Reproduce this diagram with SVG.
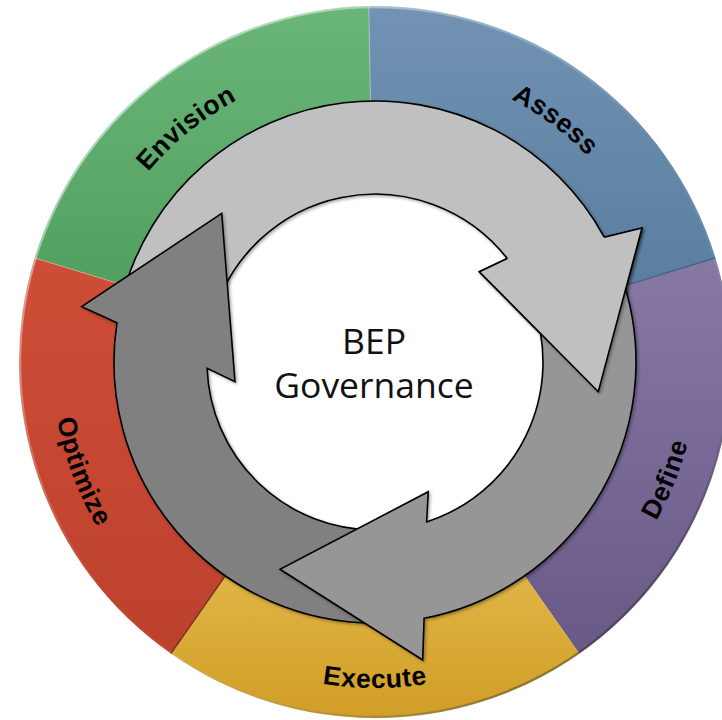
<svg xmlns="http://www.w3.org/2000/svg" width="722" height="720" viewBox="0 0 722 720">
<defs>
<style>
.lbl{font-family:"Liberation Sans",Arial,sans-serif;font-weight:bold;font-size:26.5px;fill:#000;letter-spacing:0.6px}
.ctr{font-family:"Open Sans","Noto Sans",sans-serif;font-size:35.5px;fill:#111;text-anchor:middle}
.arr{stroke:#000;stroke-width:1.6;stroke-linejoin:miter}
</style>
<linearGradient id="gG" x1="0" y1="0" x2="0" y2="1"><stop offset="0" stop-color="#6ab679"/><stop offset="1" stop-color="#52a060"/></linearGradient>
<linearGradient id="gB" x1="0" y1="0" x2="0" y2="1"><stop offset="0" stop-color="#7293b3"/><stop offset="1" stop-color="#597e9f"/></linearGradient>
<linearGradient id="gP" x1="0" y1="0" x2="0" y2="1"><stop offset="0" stop-color="#8878a5"/><stop offset="1" stop-color="#695986"/></linearGradient>
<linearGradient id="gY" x1="0" y1="0" x2="0" y2="1"><stop offset="0" stop-color="#e0b547"/><stop offset="1" stop-color="#d19e26"/></linearGradient>
<linearGradient id="gR" x1="0" y1="0" x2="0" y2="1"><stop offset="0" stop-color="#ce4d37"/><stop offset="1" stop-color="#bc412d"/></linearGradient>
<linearGradient id="bevel" x1="0.15" y1="0.1" x2="0.85" y2="0.95"><stop offset="0" stop-color="#ffffff" stop-opacity="0.55"/><stop offset="0.5" stop-color="#ffffff" stop-opacity="0"/><stop offset="1" stop-color="#000000" stop-opacity="0.45"/></linearGradient>
<filter id="sh" x="-10%" y="-10%" width="120%" height="120%"><feDropShadow dx="1.5" dy="1.5" stdDeviation="1.5" flood-color="#000" flood-opacity="0.35"/></filter>
<path id="cw" d="M 79 362 A 296 296 0 0 1 671 362 A 296 296 0 0 1 79 362"/>
<path id="ccw" d="M 375 39 A 323 323 0 0 0 375 685 A 323 323 0 0 0 375 39"/>
<path id="ccwE" d="M 375 36 A 326 326 0 0 0 375 688 A 326 326 0 0 0 375 36"/>
</defs>
<rect width="722" height="720" fill="#fff"/>
<g id="envision">
<path d="M 34.56 257.92 A 356 356 0 0 1 368.79 6.05 L 370.55 107.04 A 255 255 0 0 0 131.14 287.45 Z" fill="url(#gG)"/>
<text class="lbl" text-anchor="middle"><textPath href="#cw" startOffset="14.2%">Envision</textPath></text>
</g>
<g id="assess">
<path d="M 368.79 6.05 A 356 356 0 0 1 715.44 257.92 L 618.86 287.45 A 255 255 0 0 0 370.55 107.04 Z" fill="url(#gB)"/>
<text class="lbl" text-anchor="middle"><textPath href="#cw" startOffset="35.2%">Assess</textPath></text>
</g>
<g id="define">
<path d="M 715.44 257.92 A 356 356 0 0 1 579.19 653.62 L 521.26 570.88 A 255 255 0 0 0 618.86 287.45 Z" fill="url(#gP)"/>
<text class="lbl" text-anchor="middle"><textPath href="#ccw" startOffset="68.9%">Define</textPath></text>
</g>
<g id="execute">
<path d="M 579.19 653.62 A 356 356 0 0 1 170.81 653.62 L 228.74 570.88 A 255 255 0 0 0 521.26 570.88 Z" fill="url(#gY)"/>
<text class="lbl" text-anchor="middle"><textPath href="#ccwE" startOffset="50%">Execute</textPath></text>
</g>
<g id="optimize">
<path d="M 170.81 653.62 A 356 356 0 0 1 34.56 257.92 L 131.14 287.45 A 255 255 0 0 0 228.74 570.88 Z" fill="url(#gR)"/>
<text class="lbl" text-anchor="middle"><textPath href="#ccw" startOffset="30.7%">Optimize</textPath></text>
</g>
<g id="ring-edges" fill="none">
<line x1="715.44" y1="257.92" x2="618.86" y2="287.45" stroke="#3d5d7c" stroke-width="1.2"/>
<line x1="170.81" y1="653.62" x2="228.74" y2="570.88" stroke="#7a2e22" stroke-width="1.5"/>
<line x1="34.56" y1="257.92" x2="131.14" y2="287.45" stroke="#f0b0a0" stroke-opacity="0.6" stroke-width="1"/>
<line x1="368.79" y1="6.05" x2="370.55" y2="107.04" stroke="#b8c8d8" stroke-opacity="0.7" stroke-width="1"/>
<circle cx="375" cy="362" r="355" stroke="url(#bevel)" stroke-width="2.5"/>
</g>
<g id="connectors">
<path id="arrow-light" class="arr" filter="url(#sh)" fill="#c0c0c0" d="M 122.9 294.45 A 261 261 0 0 1 604.3 237.3 L 642 228 L 598.3 391.7 L 479.3 271.7 L 507.3 258.5 A 168 168 0 0 0 212.73 318.52 Z"/>
<path id="arrow-dark" class="arr" filter="url(#sh)" fill="#808080" d="M 375 623 A 261 261 0 0 1 116.95 322.83 L 81.7 306.7 L 221.7 213.3 L 235 381.7 L 207.12 368.27 A 168 168 0 0 0 375 530 Z"/>
<path id="arrow-medium" class="arr" filter="url(#sh)" fill="#969696" d="M 620.26 272.73 A 261 261 0 0 1 424.1 618.3 L 422.7 660 L 280 569.3 L 428.3 491.7 L 426.6 521.9 A 168 168 0 0 0 532.87 304.54 Z"/>
<path id="arrow-light-head" class="arr" filter="url(#sh)" fill="#c0c0c0" d="M 604.3 237.3 L 642 228 L 598.3 391.7 L 479.3 271.7 L 507.3 258.5"/>
</g>
<g id="center">
<text class="ctr" x="374" y="354">BEP</text>
<text class="ctr" x="374" y="398">Governance</text>
</g>
</svg>
